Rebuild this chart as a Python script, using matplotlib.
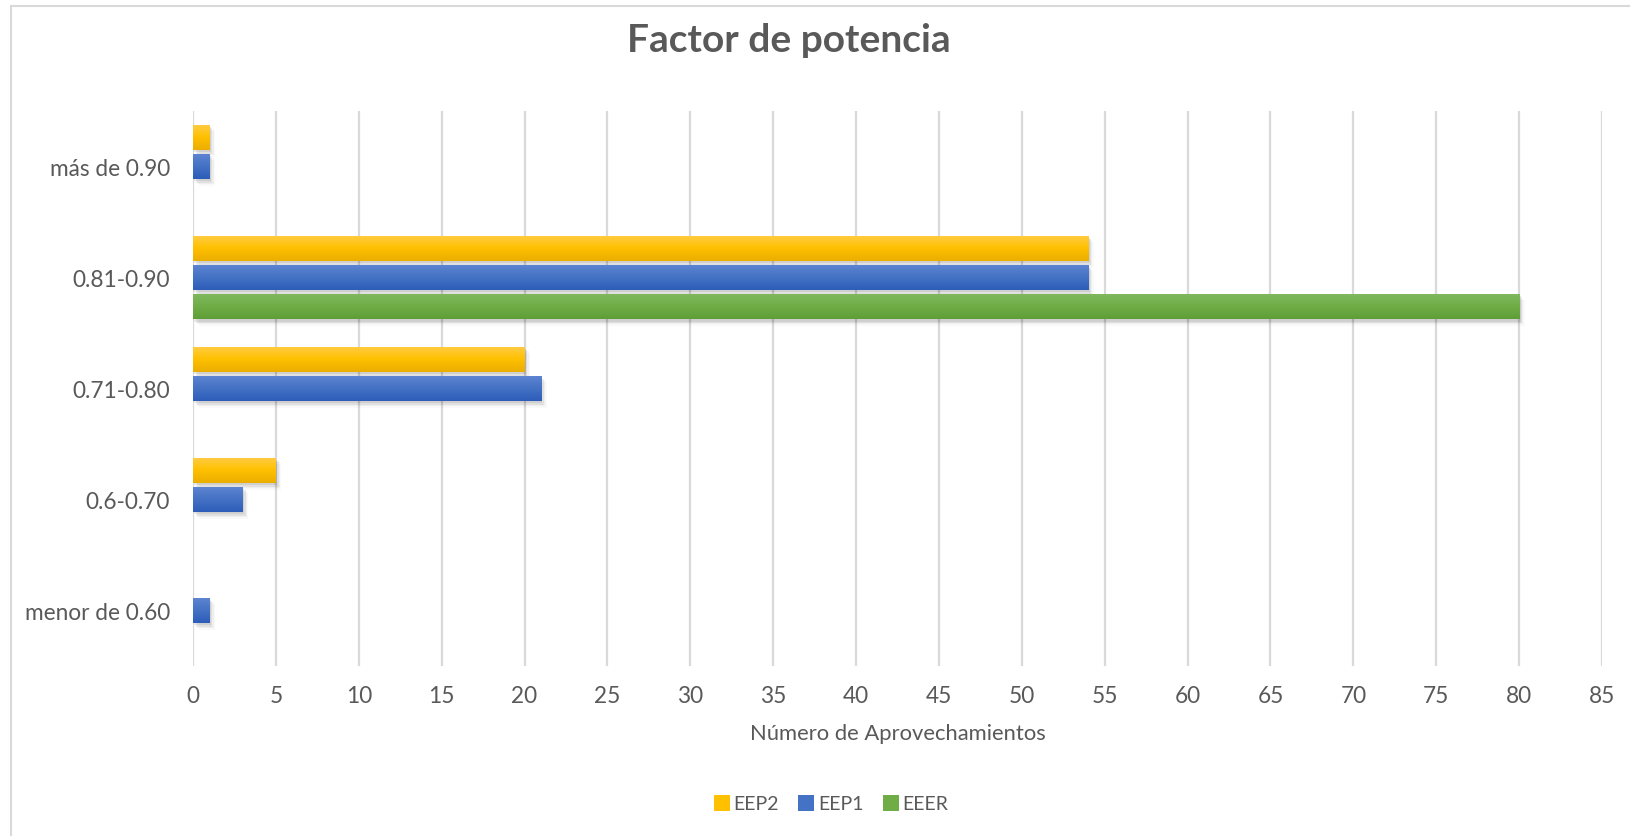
import numpy as np
import matplotlib
matplotlib.use("Agg")
import matplotlib.pyplot as plt
import matplotlib.patheffects as pe
from matplotlib.colors import LinearSegmentedColormap
from matplotlib.lines import Line2D

# Data
categories = ["menor de 0.60", "0.6-0.70", "0.71-0.80", "0.81-0.90", "más de 0.90"]
series_names = ["EEP2", "EEP1", "EEER"]
eep2 = [0, 5, 20, 54, 1]
eep1 = [1, 3, 21, 54, 1]
eeer = [0, 0, 0, 80, 0]
x_ticks = list(range(0, 90, 5))

title = "Factor de potencia"
x_label = "Número de Aprovechamientos"

# Gradient colours (top, middle, bottom) per series
grad_colors = {
    "EEP2": ["#FFCC45", "#FFC000", "#EBAE00"],
    "EEP1": ["#5E85D2", "#4472C4", "#2C5DB9"],
    "EEER": ["#80B960", "#70AD47", "#5F9E36"],
}
series_values = {"EEP2": eep2, "EEP1": eep1, "EEER": eeer}
offsets = {"EEP2": 0.262, "EEP1": 0.0, "EEER": -0.262}
bar_h = 0.232

text_color = "#595959"
grid_color = "#D9D9D9"

plt.rcParams["font.family"] = ["Lato", "DejaVu Sans"]

fig = plt.figure(figsize=(16.3, 8.37), dpi=100)
W, H = 1630, 837
ax = fig.add_axes([193 / W, 1 - 667 / H, (1602 - 193) / W, (667 - 112) / H])

ypos = np.arange(len(categories))
grad = np.linspace(0, 1, 64).reshape(-1, 1)

shadow_fx = [
    pe.SimplePatchShadow(offset=(1.0, -1.5), shadow_rgbFace="#000000", alpha=0.08),
    pe.SimplePatchShadow(offset=(2.0, -2.5), shadow_rgbFace="#000000", alpha=0.06),
    pe.SimplePatchShadow(offset=(3.0, -3.5), shadow_rgbFace="#000000", alpha=0.04),
    pe.SimplePatchShadow(offset=(4.0, -4.5), shadow_rgbFace="#000000", alpha=0.025),
    pe.Normal(),
]

for name in series_names:
    vals = series_values[name]
    cmap = LinearSegmentedColormap.from_list(name, grad_colors[name][::-1])
    bars = ax.barh(ypos + offsets[name], vals, height=bar_h,
                   color=grad_colors[name][1], zorder=3, linewidth=0)
    for b, v in zip(bars, vals):
        if v <= 0:
            b.set_visible(False)
            continue
        b.set_path_effects(shadow_fx)
        x0, y0 = b.get_x(), b.get_y()
        w, h = b.get_width(), b.get_height()
        im = ax.imshow(grad, cmap=cmap, aspect="auto", origin="lower",
                       extent=(x0, x0 + w, y0, y0 + h), zorder=4,
                       interpolation="bilinear")
        im.set_clip_path(b)

ax.set_xlim(0, 85)
ax.set_ylim(-0.5, len(categories) - 0.5)
ax.set_xticks(x_ticks)
ax.set_yticks(ypos)
ax.set_yticklabels(categories)
ax.grid(axis="x", color=grid_color, linewidth=1.6, zorder=0)
ax.set_axisbelow(True)
for s in ax.spines.values():
    s.set_visible(False)
ax.tick_params(axis="both", length=0, labelsize=16.3, colors=text_color)
ax.tick_params(axis="y", pad=16.5)
ax.tick_params(axis="x", pad=13.5)

xl = ax.set_xlabel(x_label, fontsize=15.8, color=text_color, va="center")
ax.xaxis.set_label_coords(0.5, -(734 - 667) / (667 - 112))

fig.text(789 / W, 1 - 40 / H, title, ha="center", va="center",
         fontsize=28, fontweight="bold", color=text_color)

# Legend
handles = [Line2D([], [], marker="s", linestyle="none", markersize=11,
                  markerfacecolor=grad_colors[n][1], markeredgewidth=0)
           for n in series_names]
leg = fig.legend(handles, series_names, loc="center", ncol=3,
                 bbox_to_anchor=(831 / W, 1 - 805 / H), frameon=False,
                 fontsize=14, handletextpad=0.2, columnspacing=1.0,
                 handlelength=0.8)
for t in leg.get_texts():
    t.set_color(text_color)

# Chart area outline
fig.add_artist(Line2D([11 / W, 11 / W], [0, 1 - 7 / H], color=grid_color,
                      linewidth=1.5, transform=fig.transFigure))
fig.add_artist(Line2D([11 / W, 1], [1 - 7 / H, 1 - 7 / H], color=grid_color,
                      linewidth=1.5, transform=fig.transFigure))

fig.savefig("out.png", dpi=100, facecolor="white")
